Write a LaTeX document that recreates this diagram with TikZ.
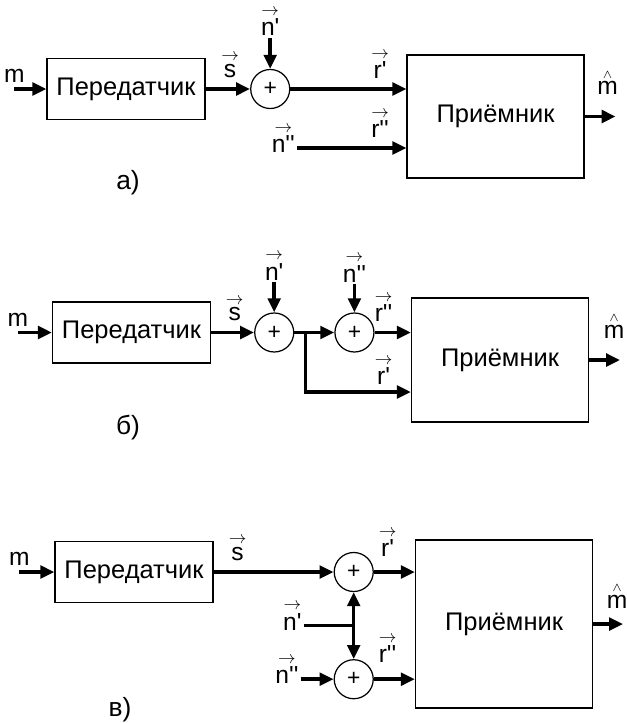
\documentclass[tikz,border=0pt]{standalone}
\usepackage{fontspec}
\setmainfont{Liberation Sans}
\usetikzlibrary{arrows.meta,positioning}

\newcommand{\vsig}[1]{$\mathop{\mbox{#1}}\limits^{\rightarrow}$}
\newcommand{\est}[1]{$\mathop{\mbox{#1}}\limits^{\scriptscriptstyle\wedge}$}
\newcommand{\pr}{\textquotesingle}

\begin{document}
\begin{tikzpicture}[
  font=\fontsize{14.5}{17}\selectfont,
  box/.style={draw, line width=0.7pt, inner sep=0pt},
  txbox/.style={box, minimum width=31.6mm, minimum height=12.2mm},
  rxbox/.style={box, minimum width=35.4mm},
  sum/.style={circle, draw, line width=0.7pt, minimum size=7.8mm, inner sep=0pt, font=\fontsize{13}{15}\selectfont},
  sig/.style={inner sep=1pt, font=\fontsize{14}{16}\selectfont},
  caption/.style={font=\fontsize{15}{18}\selectfont},
  arrow/.style={-{Triangle[length=2.8mm, width=2.5mm]}, line width=2pt},
  wire/.style={line width=2pt}
]
\useasboundingbox (0,0) rectangle (125.4mm,-144.6mm);

% --- a) ---
\node[txbox] (txa) at (25.2mm,-17.8mm) {Передатчик};
\node[sum, right=8.9mm of txa] (suma) {+};
\node[sig, above=6.2mm of suma] (n1a) {\vsig{n\pr}};
\node[rxbox, minimum height=24.6mm] (rxa) at (99.1mm,-23.3mm) {Приёмник};
\node[sig, anchor=mid east] (n2a) at (59.4mm,-29.6mm) {\vsig{n\pr\pr}};
\path (txa.west) ++(-6.4mm,0) coordinate (ina);
\path (rxa.east) ++(6.2mm,0) coordinate (outa);
\node[sig, above=0.8mm] (ma) at (ina) {m};
\node[caption] (capa) at (25.6mm,-36.6mm) {а)};

\draw[arrow] (ina) -- (txa);
\draw[arrow] (txa) -- (suma) node[sig, pos=0.55, above=1.6mm] (sa) {\vsig{s}};
\draw[arrow] (n1a) -- (suma);
\draw[arrow] (suma) -- (suma -| rxa.west)
  node[sig, pos=1, above left=1.4mm and 2.8mm] (r1a) {\vsig{r\pr}};
\draw[arrow] (n2a.mid east) -- (n2a.mid east -| rxa.west)
  node[sig, pos=1, above left=1.4mm and 2.8mm] (r2a) {\vsig{r\pr\pr}};
\draw[arrow] (rxa.east) -- (outa)
  node[sig, pos=1, above=3.6mm, xshift=-1.6mm] (mha) {\est{m}};

% --- b) ---
\node[txbox] (txb) at (26.3mm,-66.5mm) {Передатчик};
\node[sum, right=8.6mm of txb] (s1b) {+};
\node[sum, right=8mm of s1b] (s2b) {+};
\node[sig, above=6mm of s1b] (n1b) {\vsig{n\pr}};
\node[sig, above=5.6mm of s2b] (n2b) {\vsig{n\pr\pr}};
\node[rxbox, minimum height=24.8mm] (rxb) at (100mm,-72mm) {Приёмник};
\path (txb.west) ++(-6.8mm,0) coordinate (inb);
\path (rxb.east) ++(6.2mm,0) coordinate (outb);
\path (s1b.east) ++(2.2mm,0) coordinate (jb);
\node[sig, above=0.8mm] (mb) at (inb) {m};
\node[caption] (capb) at (25.6mm,-85.6mm) {б)};

\draw[arrow] (inb) -- (txb);
\draw[arrow] (txb) -- (s1b) node[sig, pos=0.55, above=1.6mm] (sb) {\vsig{s}};
\draw[arrow] (n1b) -- (s1b);
\draw[arrow] (n2b) -- (s2b);
\draw[arrow] (s1b) -- (s2b);
\draw[arrow] (s2b) -- (s2b -| rxb.west)
  node[sig, pos=1, above left=1.4mm and 3mm] (r2b) {\vsig{r\pr\pr}};
\draw[arrow] (jb) |- ([yshift=-6.4mm]rxb.west)
  node[sig, pos=1, above left=0.8mm and 3mm] (r1b) {\vsig{r\pr}};
\draw[arrow] (rxb.east) -- (outb)
  node[sig, pos=1, above=3.6mm, xshift=-1.2mm] (mhb) {\est{m}};

% --- c) ---
\node[txbox] (txc) at (26.8mm,-114.4mm) {Передатчик};
\node[sum, right=24mm of txc] (s1c) {+};
\node[sum, below=13.4mm of s1c] (s2c) {+};
\node[rxbox, minimum height=33.6mm] (rxc) at (100.8mm,-124.8mm) {Приёмник};
\path (s1c.south) -- (s2c.north) coordinate[midway] (jc);
\node[sig, anchor=mid east] (n1c) at ([xshift=-10mm]jc) {\vsig{n\pr}};
\node[sig, anchor=mid east] (n2c) at ([xshift=-6.6mm]s2c.west) {\vsig{n\pr\pr}};
\path (txc.west) ++(-7mm,0) coordinate (inc);
\path (rxc.east) ++(6mm,0) coordinate (outc);
\node[sig, above=0.8mm] (mc) at (inc) {m};
\node[caption] (capc) at (24mm,-142mm) {в)};

\draw[arrow] (inc) -- (txc);
\draw[arrow] (txc) -- (s1c) node[sig, pos=0.2, above=1.6mm] (sc) {\vsig{s}};
\draw[wire] (n1c.mid east) -- (jc);
\draw[arrow] (jc) -- (s1c);
\draw[arrow] (jc) -- (s2c);
\draw[arrow] (n2c.mid east) -- (s2c);
\draw[arrow] (s1c) -- (s1c -| rxc.west)
  node[sig, pos=1, above left=2.4mm and 3mm] (r1c) {\vsig{r\pr}};
\draw[arrow] (s2c) -- (s2c -| rxc.west)
  node[sig, pos=1, above left=2.6mm and 3mm] (r2c) {\vsig{r\pr\pr}};
\draw[arrow] (rxc.east) -- (outc)
  node[sig, pos=1, above=2.4mm, xshift=-1.2mm] (mhc) {\est{m}};

\end{tikzpicture}
\end{document}
